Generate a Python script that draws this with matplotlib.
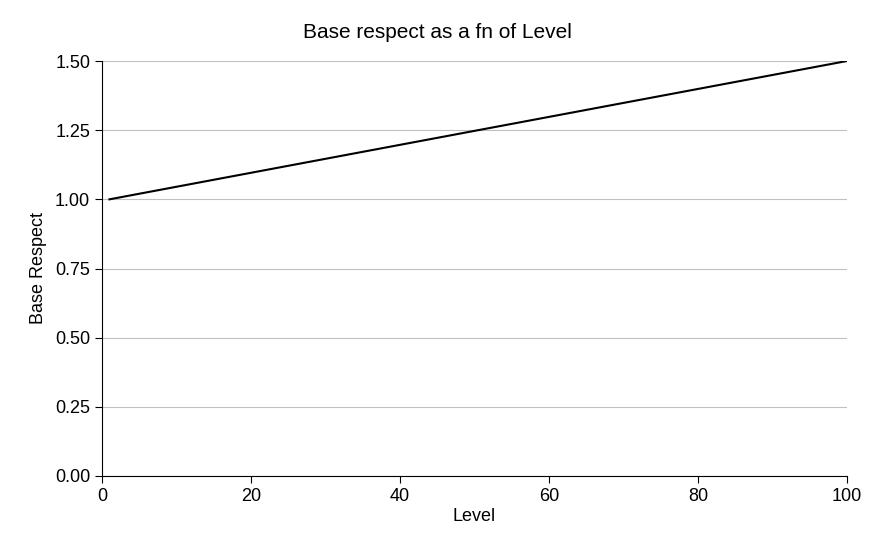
import matplotlib
matplotlib.use("Agg")
import matplotlib.pyplot as plt

plt.rcParams['font.family'] = ['Liberation Sans', 'DejaVu Sans']

levels = [1, 100]
base_respect = [1.0, 1.5]
x_ticks = [0, 20, 40, 60, 80, 100]
y_ticks = [0.0, 0.25, 0.5, 0.75, 1.0, 1.25, 1.5]

fig = plt.figure(figsize=(8.81, 5.47), dpi=100)
ax = fig.add_axes([102 / 881, 1 - 476 / 547, 745 / 881, 415 / 547])

ax.plot(levels, base_respect, color='black', linewidth=1.5)

ax.set_xlim(0, 100)
ax.set_ylim(0, 1.5)
ax.set_xticks(x_ticks)
ax.set_yticks(y_ticks)
ax.set_yticklabels([f"{v:.2f}" for v in y_ticks])
ax.tick_params(labelsize=13, direction='out', length=5)
ax.yaxis.grid(True, color='#c0c0c0', linewidth=0.8)
ax.set_axisbelow(True)

for side in ['top', 'right']:
    ax.spines[side].set_visible(False)
for side in ['left', 'bottom']:
    ax.spines[side].set_color('black')

ax.set_xlabel('Level', fontsize=13, labelpad=2)
ax.set_ylabel('Base Respect', fontsize=13, labelpad=6)
fig.text(0.497, 1 - 33 / 547, 'Base respect as a fn of Level', fontsize=15,
         ha='center', va='center')

fig.savefig('out.png', dpi=100)
